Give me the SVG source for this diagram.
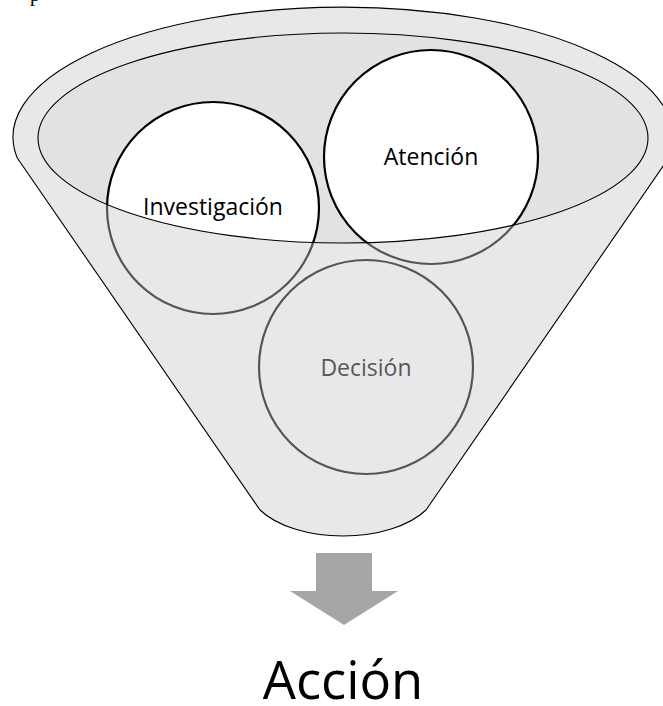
<svg xmlns="http://www.w3.org/2000/svg" width="663" height="706" viewBox="0 0 663 706">
<style>
.lbl{font-family:"Open Sans","Noto Sans","Liberation Sans",sans-serif;font-size:23px;text-anchor:middle;fill:#000}
.circ{fill:#fff;stroke:#000;stroke-width:2.2}
.edge{fill:none;stroke:#000;stroke-width:1.1}
</style>
<rect width="663" height="706" fill="#fff"/>
<text x="30" y="1" font-family="Liberation Serif,serif" font-size="20" fill="#000">p</text>
<g id="funnel-back">
<ellipse cx="343" cy="138" rx="305" ry="105" fill="#e2e2e2"/>
</g>
<g id="node-investigacion">
<circle class="circ" cx="213" cy="208" r="106"/>
<text class="lbl" x="213" y="215">Investigación</text>
</g>
<g id="node-atencion">
<circle class="circ" cx="431" cy="157" r="107"/>
<text class="lbl" x="431" y="165">Atención</text>
</g>
<g id="node-decision">
<circle class="circ" cx="366" cy="367" r="107"/>
<text class="lbl" x="366" y="376">Decisión</text>
</g>
<g id="funnel-front">
<path d="M17.3 158 A330 130 0 1 1 668.7 158 L426 510 A95 50.6 0 0 1 260 510 Z M38 138 A305 105 0 1 0 648 138 A305 105 0 1 0 38 138 Z" fill="rgb(200,200,200)" fill-opacity="0.424" fill-rule="evenodd"/>
<path class="edge" d="M17.3 158 A330 130 0 1 1 668.7 158 L426 510 A95 50.6 0 0 1 260 510 Z"/>
<ellipse class="edge" cx="343" cy="138" rx="305" ry="105"/>
</g>
<g id="connectors">
<polygon points="316,553 372,553 372,591 398,591 344,625 290,591 316,591" fill="#a6a6a6"/>
</g>
<g id="node-accion">
<text x="343" y="699" font-family="Open Sans,Noto Sans,Liberation Sans,sans-serif" font-size="52.5" text-anchor="middle" fill="#000">Acción</text>
</g>
</svg>
